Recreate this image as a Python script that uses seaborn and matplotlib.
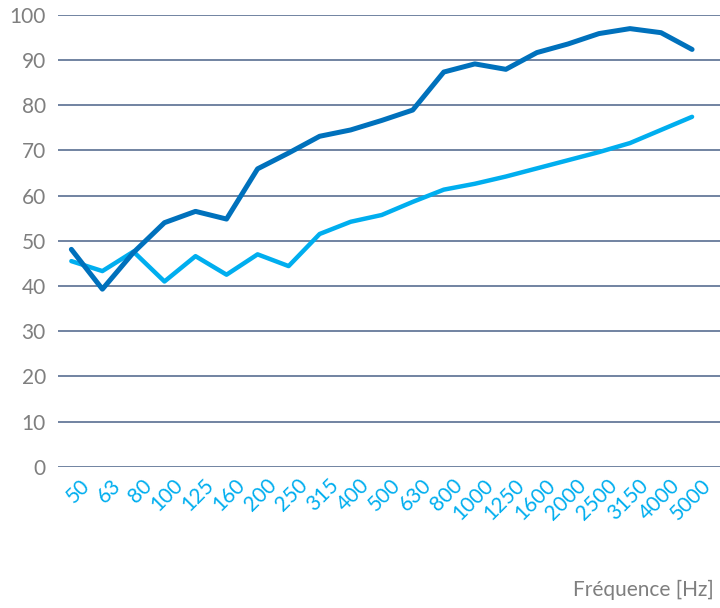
import numpy as np
import pandas as pd
import matplotlib
matplotlib.use("Agg")
import matplotlib.pyplot as plt
import seaborn as sns

# Third-octave band centres (Hz)
FREQS = ["50", "63", "80", "100", "125", "160", "200", "250", "315", "400",
         "500", "630", "800", "1000", "1250", "1600", "2000", "2500", "3150",
         "4000", "5000"]

# Two curves
DARK = [48.1, 39.3, 47.4, 54.0, 56.5, 54.8, 65.9, 69.4, 73.1, 74.5,
        76.6, 78.9, 87.3, 89.1, 87.9, 91.6, 93.5, 95.8, 96.9, 96.0, 92.3]
LIGHT = [45.5, 43.3, 47.6, 41.0, 46.6, 42.5, 47.0, 44.4, 51.5, 54.2,
         55.7, 58.6, 61.3, 62.6, 64.2, 66.0, 67.8, 69.6, 71.6, 74.5, 77.4]

DARK_COLOR = "#0071BC"
LIGHT_COLOR = "#00AEEF"
GRID_COLOR = "#4A6288"
GREY = "#7F7F7F"

df = pd.concat([
    pd.DataFrame({"idx": np.arange(len(FREQS)), "value": LIGHT, "series": "light"}),
    pd.DataFrame({"idx": np.arange(len(FREQS)), "value": DARK, "series": "dark"}),
])

sns.set_theme(style="white")
plt.rcParams["font.family"] = ["Lato", "DejaVu Sans"]

fig = plt.figure(figsize=(7.2, 6.08), dpi=100)
ax = fig.add_axes([0.081, 0.232, 0.919, 0.744])

for y in range(0, 101, 10):
    ax.axhline(y, color=GRID_COLOR, linewidth=1.1, zorder=0)

sns.lineplot(data=df[df["series"] == "light"], x="idx", y="value", ax=ax,
             color=LIGHT_COLOR, linewidth=3.2, sort=False, legend=False,
             solid_joinstyle="round", solid_capstyle="round")
sns.lineplot(data=df[df["series"] == "dark"], x="idx", y="value", ax=ax,
             color=DARK_COLOR, linewidth=3.6, sort=False, legend=False,
             solid_joinstyle="round", solid_capstyle="round")

ax.set_xlim(-0.42, 20.9)
ax.set_ylim(0, 100)
ax.set_yticks(range(0, 101, 10))
# labels sit half a band to the right of the plotted points
ax.set_xticks(np.arange(len(FREQS)) + 0.5)
ax.set_xticklabels(FREQS, rotation=45, ha="right", va="center",
                   rotation_mode="anchor", color=LIGHT_COLOR, fontsize=15)
ax.tick_params(axis="y", labelsize=15, labelcolor=GREY, length=0, pad=9)
ax.tick_params(axis="x", length=0, pad=11)
ax.set_xlabel("")
ax.set_ylabel("")
for s in ax.spines.values():
    s.set_visible(False)

fig.text(0.992, 1 - 590 / 608, "Fréquence [Hz]", ha="right", va="center",
         color=GREY, fontsize=15)

fig.savefig("out.png", dpi=100)
